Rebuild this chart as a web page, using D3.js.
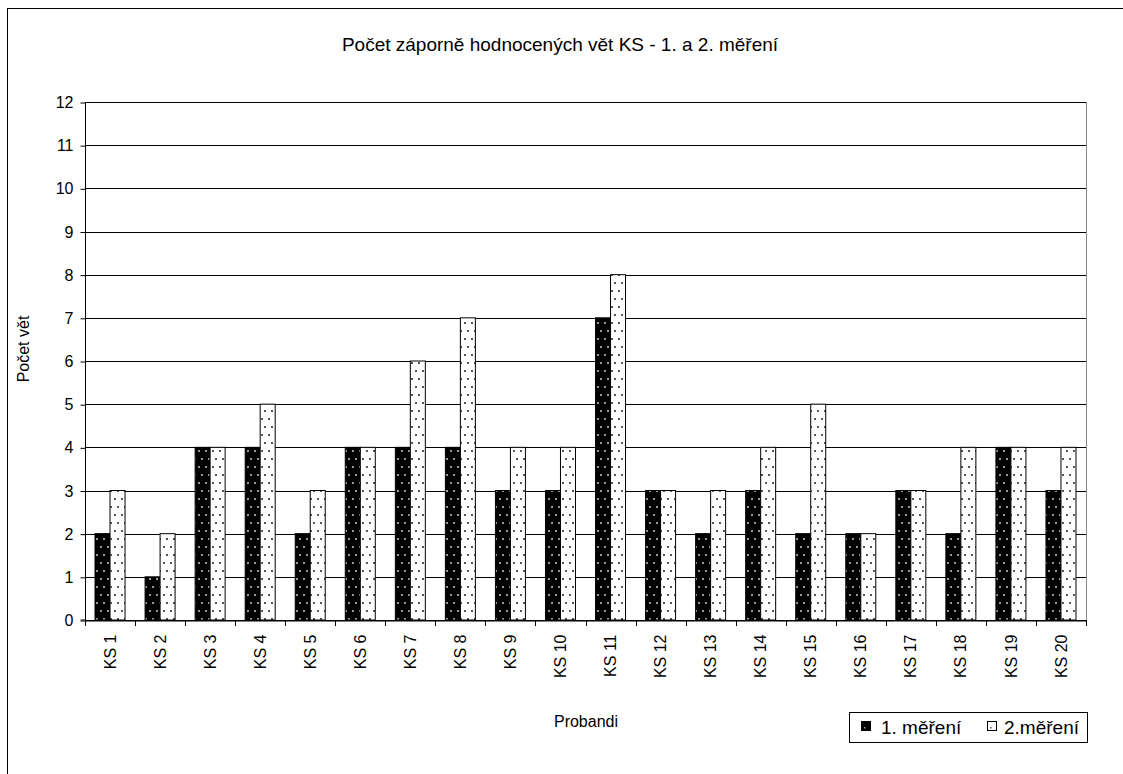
<!DOCTYPE html>
<html><head><meta charset="utf-8">
<script src="https://cdn.jsdelivr.net/npm/d3@7"></script>
<style>body{margin:0;background:#fff}svg{display:block;font-family:"Liberation Sans",Arial,sans-serif}</style>
</head><body><svg id="c" width="1123" height="774"></svg>
<script>
const categories = ["KS 1","KS 2","KS 3","KS 4","KS 5","KS 6","KS 7","KS 8","KS 9","KS 10","KS 11","KS 12","KS 13","KS 14","KS 15","KS 16","KS 17","KS 18","KS 19","KS 20"];
const mereni1 = [2,1,4,4,2,4,4,4,3,3,7,3,2,3,2,2,3,2,4,3];
const mereni2 = [3,2,4,5,3,4,6,7,4,4,8,3,3,4,5,2,3,4,4,4];
const yTicks = [0,1,2,3,4,5,6,7,8,9,10,11,12];
const seriesNames = ["1. měření","2.měření"];

const FONT = "Liberation Sans, Arial, sans-serif";
const svg = d3.select("#c");
const defs = svg.append("defs");
function makePattern(id, bg, dot){
  const p = defs.append("pattern").attr("id",id).attr("patternUnits","userSpaceOnUse")
    .attr("x",1).attr("y",0).attr("width",7).attr("height",16);
  p.append("rect").attr("width",7).attr("height",16).attr("fill",bg);
  p.append("rect").attr("x",1).attr("y",2).attr("width",2).attr("height",2).attr("fill",dot);
  p.append("rect").attr("x",4).attr("y",10).attr("width",2).attr("height",2).attr("fill",dot);
}
makePattern("pBlack","#000","#9a9a9a");
makePattern("pWhite","#fff","#555");

// outer frame
svg.append("rect").attr("x",7.5).attr("y",8.5).attr("width",1130).attr("height",800).attr("fill","none").attr("stroke","#000");

const L=85, R=1086, T=102, B=620;
const x = d3.scaleBand().domain(categories).range([L,R]);
const y = d3.scaleLinear().domain([0,12]).range([B,T]);

// grid
svg.append("g").selectAll("line").data(yTicks).join("line")
  .attr("x1",L).attr("x2",R).attr("y1",d=>Math.round(y(d))+0.5).attr("y2",d=>Math.round(y(d))+0.5)
  .attr("stroke","#000").attr("stroke-width",1);
svg.append("line").attr("x1",R+0.5).attr("x2",R+0.5).attr("y1",T).attr("y2",B).attr("stroke","#888");

const bw = 15;
const g = svg.append("g");
g.selectAll("rect.a").data(categories).join("rect").attr("class","a")
  .attr("x",(d,i)=>x(d)+x.bandwidth()/2-bw)
  .attr("y",(d,i)=>y(mereni1[i])).attr("width",bw).attr("height",(d,i)=>B-y(mereni1[i]))
  .attr("fill","url(#pBlack)").attr("stroke","#000").attr("stroke-width",1);
g.selectAll("rect.b").data(categories).join("rect").attr("class","b")
  .attr("x",(d,i)=>x(d)+x.bandwidth()/2)
  .attr("y",(d,i)=>y(mereni2[i])).attr("width",bw).attr("height",(d,i)=>B-y(mereni2[i]))
  .attr("fill","url(#pWhite)").attr("stroke","#000").attr("stroke-width",1);

// y axis
const ya = svg.append("g").attr("transform",`translate(${L+0.5},0.5)`)
  .call(d3.axisLeft(y).tickValues(yTicks).tickSize(5).tickPadding(7));
ya.attr("font-size",null).attr("font-family",null);
ya.select(".domain").attr("d",`M-5,${B-0.5}H0V${T-0.5}`).attr("stroke","#000");
ya.selectAll("line").attr("stroke","#000");
ya.selectAll("text").style("font-size","16px").style("font-family",FONT).attr("fill","#000");

// x axis
const xa = svg.append("g").attr("transform",`translate(0,${B+0.5})`)
  .call(d3.axisBottom(x).tickSize(0).tickPadding(10));
xa.attr("font-size",null).attr("font-family",null);
xa.select(".domain").attr("stroke","#000");
xa.selectAll("text").style("font-size","16px").style("font-family",FONT).attr("fill","#000")
  .attr("transform","rotate(-90)").attr("text-anchor","end").attr("dy","0.35em").attr("x",-14).attr("y",0);
svg.append("g").selectAll("line").data(d3.range(categories.length+1)).join("line")
  .attr("x1",i=>Math.round(L+i*x.step())+0.5).attr("x2",i=>Math.round(L+i*x.step())+0.5)
  .attr("y1",B).attr("y2",B+6).attr("stroke","#000");

// titles
svg.append("text").attr("x",560).attr("y",51).attr("text-anchor","middle").style("font-size","19px").style("font-family",FONT).text("Počet záporně hodnocených vět KS - 1. a 2. měření");
svg.append("text").attr("transform","translate(29,349) rotate(-90)").attr("text-anchor","middle").style("font-size","16px").style("font-family",FONT).text("Počet vět");
svg.append("text").attr("x",586).attr("y",727).attr("text-anchor","middle").style("font-size","16px").style("font-family",FONT).text("Probandi");

// legend
const lg = svg.append("g");
lg.append("rect").attr("x",849.5).attr("y",712.5).attr("width",238).attr("height",30).attr("fill","#fff").attr("stroke","#000");
const items=[{x:861,tx:881,fill:"#000",dot:"#9a9a9a",t:seriesNames[0]},{x:987,tx:1004,fill:"#fff",dot:"#555",t:seriesNames[1]}];
items.forEach(it=>{
  lg.append("rect").attr("x",it.x+0.5).attr("y",721.5).attr("width",9).attr("height",9).attr("fill",it.fill).attr("stroke","#000");
  lg.append("rect").attr("x",it.x+3).attr("y",727).attr("width",1.5).attr("height",1.5).attr("fill",it.dot);
  lg.append("text").attr("x",it.tx).attr("y",734).style("font-size","19px").style("font-family",FONT).text(it.t);
});
</script></body></html>
